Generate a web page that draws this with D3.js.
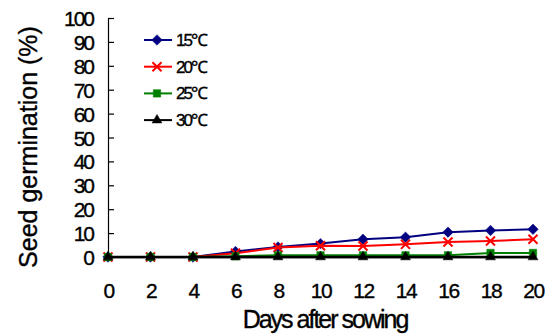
<!DOCTYPE html>
<html lang="en">
  <head>
    <meta charset="utf-8">
    <title>Seed germination</title>
    <script src="https://d3js.org/d3.v7.min.js"></script>
    <style>
    body { margin: 0; background: #fff; }
    #chart text { font-family: "Liberation Sans", Arial, sans-serif; fill: #000; stroke: #000; stroke-width: 0.35px; }
    </style>
  </head>
  <body>
    <div id="chart"></div>
    <script>
    // days after sowing
    var days = [0, 2, 4, 6, 8, 10, 12, 14, 16, 18, 20];
    var yTicks = [0, 10, 20, 30, 40, 50, 60, 70, 80, 90, 100];
    var seriesNames = ["15\u2103", "20\u2103", "25\u2103", "30\u2103"];

    // germination (%)
    var g15 = [0, 0, 0, 2.3, 4.2, 5.6, 7.4, 8.3, 10.4, 11.1, 11.6];
    var g20 = [0, 0, 0, 1.6, 4.0, 4.7, 4.6, 5.3, 6.3, 6.7, 7.4];
    var g25 = [0, 0, 0, 0.3, 0.7, 0.7, 0.7, 0.7, 0.7, 1.7, 1.7];
    var g30 = [0, 0, 0, 0, 0, 0, 0, 0, 0, 0, 0];

    var colors = ["#000080", "#ff0000", "#008000", "#000000"];
    var shapes = [d3.symbolDiamond2, d3.symbolX, d3.symbolSquare2, d3.symbolTriangle2];
    var allSeries = [g15, g20, g25, g30];

    var svg = d3.select("#chart").append("svg")
      .attr("width", 553).attr("height", 334);

    var x = d3.scaleLinear().domain([0, 20]).range([108, 533]);
    var y = d3.scaleLinear().domain([0, 100]).range([257, 18]);

    // y axis with inward ticks
    var yAxis = svg.append("g").attr("transform", "translate(108,0)")
      .call(d3.axisLeft(y).tickValues(yTicks).tickSizeInner(-6).tickSizeOuter(0).tickPadding(15));
    yAxis.select(".domain").attr("stroke", "#000").attr("stroke-width", 1.2);
    yAxis.selectAll(".tick line").attr("stroke", "#000").attr("stroke-width", 1.2);
    yAxis.selectAll("text").style("font-size", "21px").style("letter-spacing", "-2px")
      .attr("dy", "0.36em");

    // x axis: labels only, baseline line
    var xAxis = svg.append("g").attr("transform", "translate(0,257)")
      .call(d3.axisBottom(x).tickValues(days).tickSize(0).tickPadding(26));
    xAxis.select(".domain").attr("stroke", "#000").attr("stroke-width", 1.5);
    xAxis.selectAll("text").style("font-size", "21px").style("letter-spacing", "-1.5px");

    // axis titles
    svg.append("text").attr("x", 325).attr("y", 328)
      .attr("text-anchor", "middle").style("font-size", "25px").style("letter-spacing", "-2px")
      .text("Days after sowing");
    svg.append("text").attr("transform", "translate(37,147) rotate(-90)")
      .attr("text-anchor", "middle").style("font-size", "25px").style("letter-spacing", "0px")
      .text("Seed germination (%)");

    var line = d3.line().x(function (d, i) { return x(days[i]); }).y(function (d) { return y(d); });

    allSeries.forEach(function (vals, k) {
      var g = svg.append("g");
      g.append("path").datum(vals).attr("d", line)
        .attr("fill", "none").attr("stroke", colors[k]).attr("stroke-width", k == 3 ? 2.5 : 2);
      g.selectAll("path.m").data(vals).enter().append("path").attr("class", "m")
        .attr("transform", function (d, i) { return "translate(" + x(days[i]) + "," + y(d) + ")"; })
        .attr("d", d3.symbol().type(shapes[k]).size(k == 1 ? 55 : 70))
        .attr("fill", k == 1 ? "none" : colors[k])
        .attr("stroke", colors[k]).attr("stroke-width", k == 1 ? 2 : 0.5);
    });

    // legend
    var legend = svg.append("g");
    seriesNames.forEach(function (name, k) {
      var ly = 40 + k * 26.7;
      legend.append("line").attr("x1", 144).attr("x2", 172).attr("y1", ly).attr("y2", ly)
        .attr("stroke", colors[k]).attr("stroke-width", 2);
      legend.append("path").attr("transform", "translate(157," + ly + ")")
        .attr("d", d3.symbol().type(shapes[k]).size(k == 1 ? 55 : 70))
        .attr("fill", k == 1 ? "none" : colors[k])
        .attr("stroke", colors[k]).attr("stroke-width", k == 1 ? 2 : 0.5);
      legend.append("text").attr("x", 176).attr("y", ly + 6)
        .style("font-size", "17px").style("letter-spacing", "-2px").text(name);
    });
    </script>
  </body>
</html>
